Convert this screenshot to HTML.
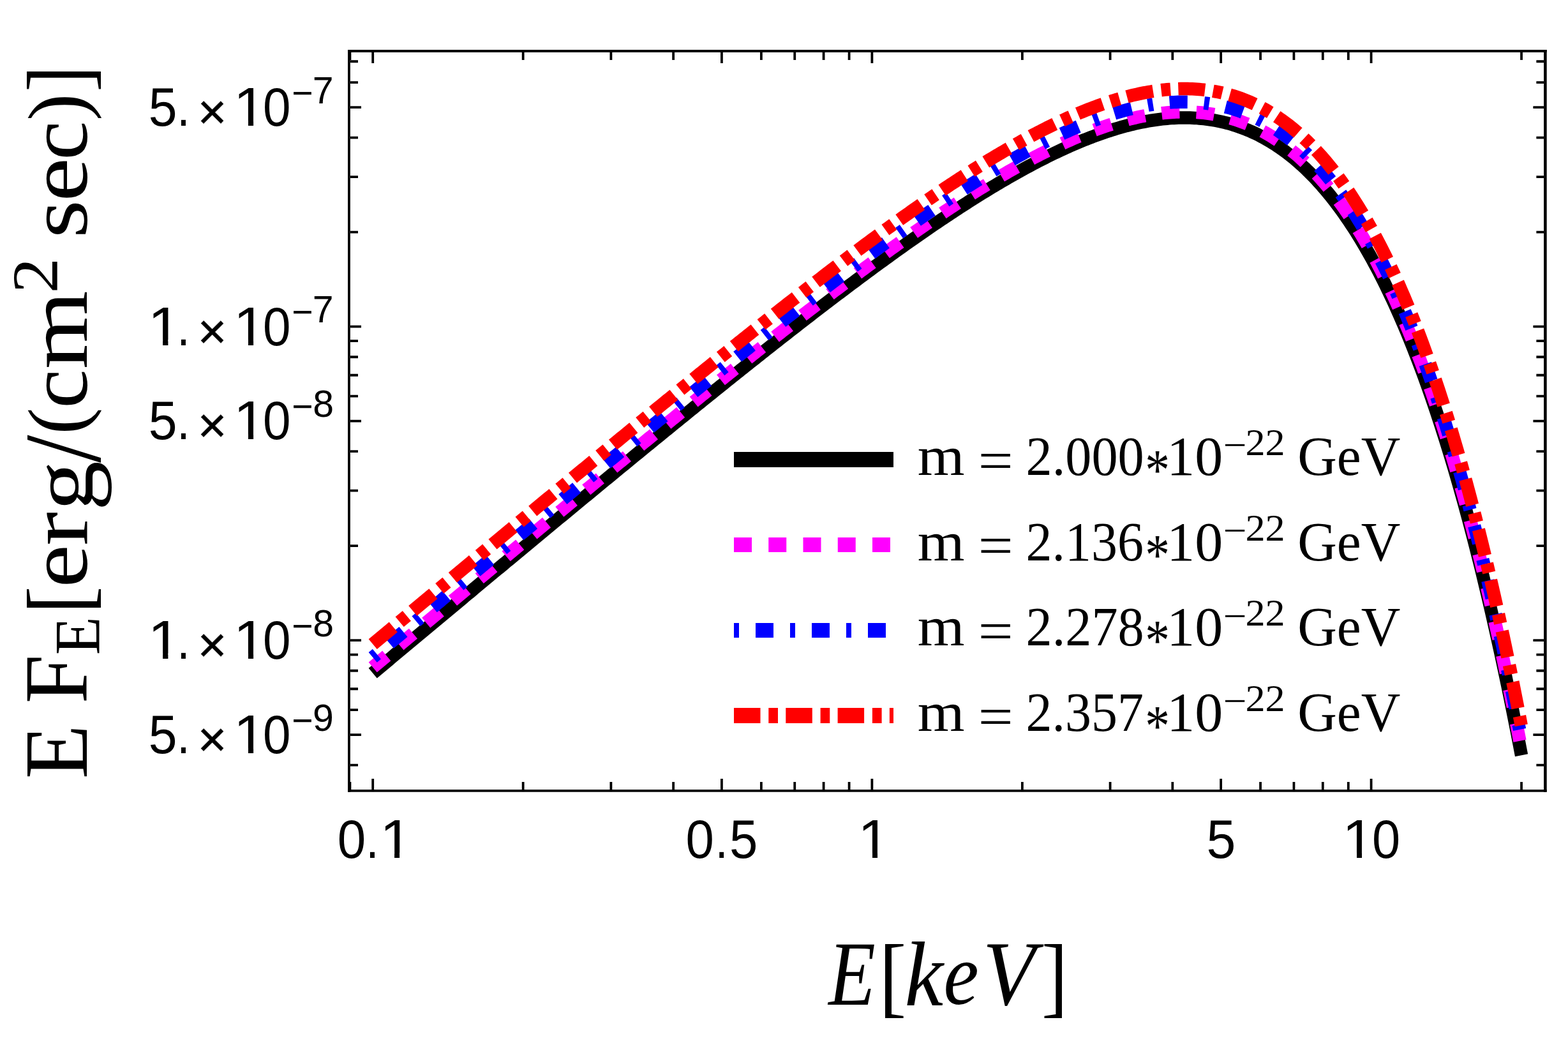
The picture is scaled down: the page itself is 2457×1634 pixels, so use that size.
<!DOCTYPE html><html><head><meta charset="utf-8"><title>E F_E spectrum</title><style>html,body{margin:0;padding:0;background:#fff;overflow:hidden}svg{display:block}text{font-kerning:none}</style></head><body>
<svg width="2457" height="1634" viewBox="0 0 2457 1634">
<rect width="2457" height="1634" fill="#fff"/>
<defs><clipPath id="pc"><rect x="549" y="82" width="1870.5" height="1155"/></clipPath></defs>
<g fill="none" stroke-linejoin="round" stroke-linecap="butt" clip-path="url(#pc)">
<path d="M584.20,1054.59 L587.81,1051.58 L591.41,1048.57 L595.02,1045.55 L598.63,1042.54 L602.23,1039.53 L605.84,1036.52 L609.45,1033.51 L613.06,1030.50 L616.66,1027.48 L620.27,1024.47 L623.88,1021.46 L627.48,1018.45 L631.09,1015.44 L634.70,1012.43 L638.30,1009.42 L641.91,1006.41 L645.52,1003.40 L649.13,1000.39 L652.73,997.38 L656.34,994.38 L659.95,991.37 L663.55,988.36 L667.16,985.35 L670.77,982.34 L674.37,979.33 L677.98,976.33 L681.59,973.32 L685.19,970.31 L688.80,967.31 L692.41,964.30 L696.02,961.29 L699.62,958.29 L703.23,955.28 L706.84,952.28 L710.44,949.27 L714.05,946.27 L717.66,943.26 L721.26,940.26 L724.87,937.26 L728.48,934.25 L732.08,931.25 L735.69,928.25 L739.30,925.25 L742.91,922.24 L746.51,919.24 L750.12,916.24 L753.73,913.24 L757.33,910.24 L760.94,907.24 L764.55,904.24 L768.15,901.24 L771.76,898.24 L775.37,895.24 L778.98,892.24 L782.58,889.25 L786.19,886.25 L789.80,883.25 L793.40,880.25 L797.01,877.26 L800.62,874.26 L804.22,871.27 L807.83,868.27 L811.44,865.28 L815.04,862.28 L818.65,859.29 L822.26,856.30 L825.87,853.31 L829.47,850.31 L833.08,847.32 L836.69,844.33 L840.29,841.34 L843.90,838.35 L847.51,835.36 L851.11,832.37 L854.72,829.39 L858.33,826.40 L861.93,823.41 L865.54,820.43 L869.15,817.44 L872.76,814.46 L876.36,811.47 L879.97,808.49 L883.58,805.51 L887.18,802.52 L890.79,799.54 L894.40,796.56 L898.00,793.58 L901.61,790.60 L905.22,787.62 L908.83,784.64 L912.43,781.67 L916.04,778.69 L919.65,775.72 L923.25,772.74 L926.86,769.77 L930.47,766.79 L934.07,763.82 L937.68,760.85 L941.29,757.88 L944.89,754.91 L948.50,751.94 L952.11,748.97 L955.72,746.00 L959.32,743.04 L962.93,740.07 L966.54,737.11 L970.14,734.15 L973.75,731.18 L977.36,728.22 L980.96,725.26 L984.57,722.30 L988.18,719.35 L991.78,716.39 L995.39,713.43 L999.00,710.48 L1002.61,707.52 L1006.21,704.57 L1009.82,701.62 L1013.43,698.67 L1017.03,695.72 L1020.64,692.78 L1024.25,689.83 L1027.85,686.88 L1031.46,683.94 L1035.07,681.00 L1038.68,678.06 L1042.28,675.12 L1045.89,672.18 L1049.50,669.24 L1053.10,666.31 L1056.71,663.38 L1060.32,660.44 L1063.92,657.51 L1067.53,654.58 L1071.14,651.66 L1074.74,648.73 L1078.35,645.81 L1081.96,642.88 L1085.57,639.96 L1089.17,637.04 L1092.78,634.13 L1096.39,631.21 L1099.99,628.30 L1103.60,625.38 L1107.21,622.47 L1110.81,619.57 L1114.42,616.66 L1118.03,613.75 L1121.63,610.85 L1125.24,607.95 L1128.85,605.05 L1132.46,602.16 L1136.06,599.26 L1139.67,596.37 L1143.28,593.48 L1146.88,590.59 L1150.49,587.71 L1154.10,584.82 L1157.70,581.94 L1161.31,579.07 L1164.92,576.19 L1168.53,573.32 L1172.13,570.44 L1175.74,567.58 L1179.35,564.71 L1182.95,561.85 L1186.56,558.99 L1190.17,556.13 L1193.77,553.27 L1197.38,550.42 L1200.99,547.57 L1204.59,544.73 L1208.20,541.88 L1211.81,539.04 L1215.42,536.20 L1219.02,533.37 L1222.63,530.54 L1226.24,527.71 L1229.84,524.88 L1233.45,522.06 L1237.06,519.24 L1240.66,516.43 L1244.27,513.62 L1247.88,510.81 L1251.48,508.00 L1255.09,505.20 L1258.70,502.40 L1262.31,499.61 L1265.91,496.82 L1269.52,494.04 L1273.13,491.25 L1276.73,488.47 L1280.34,485.70 L1283.95,482.93 L1287.55,480.16 L1291.16,477.40 L1294.77,474.65 L1298.38,471.89 L1301.98,469.14 L1305.59,466.40 L1309.20,463.66 L1312.80,460.93 L1316.41,458.20 L1320.02,455.47 L1323.62,452.75 L1327.23,450.03 L1330.84,447.32 L1334.44,444.62 L1338.05,441.92 L1341.66,439.22 L1345.27,436.53 L1348.87,433.85 L1352.48,431.17 L1356.09,428.50 L1359.69,425.83 L1363.30,423.17 L1366.91,420.52 L1370.51,417.87 L1374.12,415.22 L1377.73,412.58 L1381.33,409.95 L1384.94,407.33 L1388.55,404.71 L1392.16,402.10 L1395.76,399.49 L1399.37,396.90 L1402.98,394.30 L1406.58,391.72 L1410.19,389.14 L1413.80,386.57 L1417.40,384.01 L1421.01,381.45 L1424.62,378.91 L1428.23,376.37 L1431.83,373.83 L1435.44,371.31 L1439.05,368.79 L1442.65,366.28 L1446.26,363.78 L1449.87,361.29 L1453.47,358.81 L1457.08,356.34 L1460.69,353.87 L1464.29,351.41 L1467.90,348.97 L1471.51,346.53 L1475.12,344.10 L1478.72,341.68 L1482.33,339.27 L1485.94,336.87 L1489.54,334.48 L1493.15,332.10 L1496.76,329.73 L1500.36,327.37 L1503.97,325.02 L1507.58,322.68 L1511.18,320.35 L1514.79,318.04 L1518.40,315.73 L1522.01,313.44 L1525.61,311.16 L1529.22,308.89 L1532.83,306.63 L1536.43,304.38 L1540.04,302.15 L1543.65,299.93 L1547.25,297.72 L1550.86,295.52 L1554.47,293.34 L1558.08,291.17 L1561.68,289.01 L1565.29,286.87 L1568.90,284.74 L1572.50,282.63 L1576.11,280.53 L1579.72,278.44 L1583.32,276.37 L1586.93,274.31 L1590.54,272.27 L1594.14,270.25 L1597.75,268.24 L1601.36,266.24 L1604.97,264.26 L1608.57,262.30 L1612.18,260.36 L1615.79,258.43 L1619.39,256.52 L1623.00,254.62 L1626.61,252.75 L1630.21,250.89 L1633.82,249.05 L1637.43,247.23 L1641.03,245.42 L1644.64,243.64 L1648.25,241.87 L1651.86,240.13 L1655.46,238.40 L1659.07,236.70 L1662.68,235.01 L1666.28,233.35 L1669.89,231.70 L1673.50,230.08 L1677.10,228.48 L1680.71,226.90 L1684.32,225.34 L1687.93,223.81 L1691.53,222.30 L1695.14,220.81 L1698.75,219.35 L1702.35,217.91 L1705.96,216.49 L1709.57,215.10 L1713.17,213.74 L1716.78,212.40 L1720.39,211.08 L1723.99,209.79 L1727.60,208.53 L1731.21,207.29 L1734.82,206.09 L1738.42,204.91 L1742.03,203.76 L1745.64,202.63 L1749.24,201.54 L1752.85,200.47 L1756.46,199.44 L1760.06,198.43 L1763.67,197.46 L1767.28,196.51 L1770.88,195.60 L1774.49,194.72 L1778.10,193.88 L1781.71,193.06 L1785.31,192.28 L1788.92,191.53 L1792.53,190.82 L1796.13,190.14 L1799.74,189.50 L1803.35,188.89 L1806.95,188.32 L1810.56,187.79 L1814.17,187.30 L1817.78,186.84 L1821.38,186.42 L1824.99,186.04 L1828.60,185.70 L1832.20,185.40 L1835.81,185.14 L1839.42,184.92 L1843.02,184.74 L1846.63,184.61 L1850.24,184.52 L1853.84,184.47 L1857.45,184.47 L1861.06,184.51 L1864.67,184.60 L1868.27,184.74 L1871.88,184.92 L1875.49,185.14 L1879.09,185.42 L1882.70,185.75 L1886.31,186.12 L1889.91,186.55 L1893.52,187.02 L1897.13,187.55 L1900.74,188.13 L1904.34,188.77 L1907.95,189.45 L1911.56,190.20 L1915.16,190.99 L1918.77,191.85 L1922.38,192.76 L1925.98,193.72 L1929.59,194.75 L1933.20,195.83 L1936.80,196.98 L1940.41,198.19 L1944.02,199.45 L1947.63,200.78 L1951.23,202.18 L1954.84,203.63 L1958.45,205.16 L1962.05,206.74 L1965.66,208.40 L1969.27,210.12 L1972.87,211.91 L1976.48,213.77 L1980.09,215.71 L1983.69,217.71 L1987.30,219.78 L1990.91,221.93 L1994.52,224.15 L1998.12,226.45 L2001.73,228.82 L2005.34,231.27 L2008.94,233.80 L2012.55,236.41 L2016.16,239.10 L2019.76,241.87 L2023.37,244.72 L2026.98,247.65 L2030.59,250.67 L2034.19,253.78 L2037.80,256.97 L2041.41,260.25 L2045.01,263.61 L2048.62,267.07 L2052.23,270.62 L2055.83,274.26 L2059.44,277.99 L2063.05,281.82 L2066.65,285.75 L2070.26,289.77 L2073.87,293.89 L2077.48,298.11 L2081.08,302.43 L2084.69,306.85 L2088.30,311.37 L2091.90,316.00 L2095.51,320.74 L2099.12,325.58 L2102.72,330.53 L2106.33,335.59 L2109.94,340.76 L2113.54,346.04 L2117.15,351.44 L2120.76,356.95 L2124.37,362.58 L2127.97,368.33 L2131.58,374.19 L2135.19,380.18 L2138.79,386.29 L2142.40,392.52 L2146.01,398.87 L2149.61,405.36 L2153.22,411.97 L2156.83,418.71 L2160.44,425.58 L2164.04,432.59 L2167.65,439.73 L2171.26,447.01 L2174.86,454.42 L2178.47,461.97 L2182.08,469.66 L2185.68,477.50 L2189.29,485.48 L2192.90,493.60 L2196.50,501.87 L2200.11,510.30 L2203.72,518.87 L2207.33,527.59 L2210.93,536.47 L2214.54,545.51 L2218.15,554.70 L2221.75,564.05 L2225.36,573.56 L2228.97,583.24 L2232.57,593.08 L2236.18,603.09 L2239.79,613.27 L2243.39,623.62 L2247.00,634.14 L2250.61,644.84 L2254.22,655.71 L2257.82,666.76 L2261.43,678.00 L2265.04,689.41 L2268.64,701.01 L2272.25,712.80 L2275.86,724.78 L2279.46,736.94 L2283.07,749.31 L2286.68,761.86 L2290.29,774.62 L2293.89,787.57 L2297.50,800.73 L2301.11,814.09 L2304.71,827.65 L2308.32,841.43 L2311.93,855.42 L2315.53,869.62 L2319.14,884.03 L2322.75,898.67 L2326.35,913.52 L2329.96,928.60 L2333.57,943.90 L2337.18,959.44 L2340.78,975.20 L2344.39,991.19 L2348.00,1007.43 L2351.60,1023.89 L2355.21,1040.61 L2358.82,1057.56 L2362.42,1074.76 L2366.03,1092.21 L2369.64,1109.91 L2373.24,1127.87 L2376.85,1146.08 L2380.46,1164.55 L2384.07,1183.29" stroke="#000" stroke-width="20.5"/>
<path d="M584.20,1045.39 L587.81,1042.38 L591.41,1039.37 L595.02,1036.35 L598.63,1033.34 L602.23,1030.33 L605.84,1027.32 L609.45,1024.31 L613.06,1021.30 L616.66,1018.28 L620.27,1015.27 L623.88,1012.26 L627.48,1009.25 L631.09,1006.24 L634.70,1003.23 L638.30,1000.22 L641.91,997.21 L645.52,994.20 L649.13,991.19 L652.73,988.18 L656.34,985.18 L659.95,982.17 L663.55,979.16 L667.16,976.15 L670.77,973.14 L674.37,970.13 L677.98,967.13 L681.59,964.12 L685.19,961.11 L688.80,958.11 L692.41,955.10 L696.02,952.09 L699.62,949.09 L703.23,946.08 L706.84,943.08 L710.44,940.07 L714.05,937.07 L717.66,934.06 L721.26,931.06 L724.87,928.06 L728.48,925.05 L732.08,922.05 L735.69,919.05 L739.30,916.05 L742.91,913.04 L746.51,910.04 L750.12,907.04 L753.73,904.04 L757.33,901.04 L760.94,898.04 L764.55,895.04 L768.15,892.04 L771.76,889.04 L775.37,886.04 L778.98,883.04 L782.58,880.05 L786.19,877.05 L789.80,874.05 L793.40,871.05 L797.01,868.06 L800.62,865.06 L804.22,862.07 L807.83,859.07 L811.44,856.08 L815.04,853.08 L818.65,850.09 L822.26,847.10 L825.87,844.11 L829.47,841.11 L833.08,838.12 L836.69,835.13 L840.29,832.14 L843.90,829.15 L847.51,826.16 L851.11,823.17 L854.72,820.19 L858.33,817.20 L861.93,814.21 L865.54,811.23 L869.15,808.24 L872.76,805.26 L876.36,802.27 L879.97,799.29 L883.58,796.31 L887.18,793.32 L890.79,790.34 L894.40,787.36 L898.00,784.38 L901.61,781.40 L905.22,778.42 L908.83,775.44 L912.43,772.47 L916.04,769.49 L919.65,766.52 L923.25,763.54 L926.86,760.57 L930.47,757.59 L934.07,754.62 L937.68,751.65 L941.29,748.68 L944.89,745.71 L948.50,742.74 L952.11,739.77 L955.72,736.80 L959.32,733.84 L962.93,730.87 L966.54,727.91 L970.14,724.95 L973.75,721.98 L977.36,719.02 L980.96,716.06 L984.57,713.10 L988.18,710.15 L991.78,707.19 L995.39,704.23 L999.00,701.28 L1002.61,698.32 L1006.21,695.37 L1009.82,692.42 L1013.43,689.47 L1017.03,686.52 L1020.64,683.58 L1024.25,680.63 L1027.85,677.68 L1031.46,674.74 L1035.07,671.80 L1038.68,668.86 L1042.28,665.92 L1045.89,662.98 L1049.50,660.04 L1053.10,657.11 L1056.71,654.18 L1060.32,651.24 L1063.92,648.31 L1067.53,645.38 L1071.14,642.46 L1074.74,639.53 L1078.35,636.61 L1081.96,633.68 L1085.57,630.76 L1089.17,627.84 L1092.78,624.93 L1096.39,622.01 L1099.99,619.10 L1103.60,616.18 L1107.21,613.27 L1110.81,610.37 L1114.42,607.46 L1118.03,604.55 L1121.63,601.65 L1125.24,598.75 L1128.85,595.85 L1132.46,592.96 L1136.06,590.06 L1139.67,587.17 L1143.28,584.28 L1146.88,581.39 L1150.49,578.51 L1154.10,575.62 L1157.70,572.74 L1161.31,569.87 L1164.92,566.99 L1168.53,564.12 L1172.13,561.24 L1175.74,558.38 L1179.35,555.51 L1182.95,552.65 L1186.56,549.79 L1190.17,546.93 L1193.77,544.07 L1197.38,541.22 L1200.99,538.37 L1204.59,535.53 L1208.20,532.68 L1211.81,529.84 L1215.42,527.00 L1219.02,524.17 L1222.63,521.34 L1226.24,518.51 L1229.84,515.68 L1233.45,512.86 L1237.06,510.04 L1240.66,507.23 L1244.27,504.42 L1247.88,501.61 L1251.48,498.80 L1255.09,496.00 L1258.70,493.20 L1262.31,490.41 L1265.91,487.62 L1269.52,484.84 L1273.13,482.05 L1276.73,479.27 L1280.34,476.50 L1283.95,473.73 L1287.55,470.96 L1291.16,468.20 L1294.77,465.45 L1298.38,462.69 L1301.98,459.94 L1305.59,457.20 L1309.20,454.46 L1312.80,451.73 L1316.41,449.00 L1320.02,446.27 L1323.62,443.55 L1327.23,440.83 L1330.84,438.12 L1334.44,435.42 L1338.05,432.72 L1341.66,430.02 L1345.27,427.33 L1348.87,424.65 L1352.48,421.97 L1356.09,419.30 L1359.69,416.63 L1363.30,413.97 L1366.91,411.32 L1370.51,408.67 L1374.12,406.02 L1377.73,403.38 L1381.33,400.75 L1384.94,398.13 L1388.55,395.51 L1392.16,392.90 L1395.76,390.29 L1399.37,387.70 L1402.98,385.10 L1406.58,382.52 L1410.19,379.94 L1413.80,377.37 L1417.40,374.81 L1421.01,372.25 L1424.62,369.71 L1428.23,367.17 L1431.83,364.63 L1435.44,362.11 L1439.05,359.59 L1442.65,357.08 L1446.26,354.58 L1449.87,352.09 L1453.47,349.61 L1457.08,347.14 L1460.69,344.67 L1464.29,342.21 L1467.90,339.77 L1471.51,337.33 L1475.12,334.90 L1478.72,332.48 L1482.33,330.07 L1485.94,327.67 L1489.54,325.28 L1493.15,322.90 L1496.76,320.53 L1500.36,318.17 L1503.97,315.82 L1507.58,313.48 L1511.18,311.15 L1514.79,308.84 L1518.40,306.53 L1522.01,304.24 L1525.61,301.96 L1529.22,299.69 L1532.83,297.43 L1536.43,295.18 L1540.04,292.95 L1543.65,290.73 L1547.25,288.52 L1550.86,286.32 L1554.47,284.14 L1558.08,281.97 L1561.68,279.81 L1565.29,277.67 L1568.90,275.54 L1572.50,273.43 L1576.11,271.33 L1579.72,269.24 L1583.32,267.17 L1586.93,265.11 L1590.54,263.07 L1594.14,261.05 L1597.75,259.04 L1601.36,257.04 L1604.97,255.06 L1608.57,253.10 L1612.18,251.16 L1615.79,249.23 L1619.39,247.32 L1623.00,245.42 L1626.61,243.55 L1630.21,241.69 L1633.82,239.85 L1637.43,238.03 L1641.03,236.22 L1644.64,234.44 L1648.25,232.67 L1651.86,230.93 L1655.46,229.20 L1659.07,227.50 L1662.68,225.81 L1666.28,224.15 L1669.89,222.50 L1673.50,220.88 L1677.10,219.28 L1680.71,217.70 L1684.32,216.14 L1687.93,214.61 L1691.53,213.10 L1695.14,211.61 L1698.75,210.15 L1702.35,208.71 L1705.96,207.29 L1709.57,205.90 L1713.17,204.54 L1716.78,203.20 L1720.39,201.88 L1723.99,200.59 L1727.60,199.33 L1731.21,198.09 L1734.82,196.89 L1738.42,195.71 L1742.03,194.56 L1745.64,193.43 L1749.24,192.34 L1752.85,191.27 L1756.46,190.24 L1760.06,189.23 L1763.67,188.26 L1767.28,187.31 L1770.88,186.40 L1774.49,185.52 L1778.10,184.68 L1781.71,183.86 L1785.31,183.08 L1788.92,182.33 L1792.53,181.62 L1796.13,180.94 L1799.74,180.30 L1803.35,179.69 L1806.95,179.12 L1810.56,178.59 L1814.17,178.10 L1817.78,177.64 L1821.38,177.22 L1824.99,176.84 L1828.60,176.50 L1832.20,176.20 L1835.81,175.94 L1839.42,175.72 L1843.02,175.54 L1846.63,175.41 L1850.24,175.32 L1853.84,175.27 L1857.45,175.27 L1861.06,175.31 L1864.67,175.40 L1868.27,175.54 L1871.88,175.72 L1875.49,175.94 L1879.09,176.22 L1882.70,176.55 L1886.31,176.92 L1889.91,177.35 L1893.52,177.82 L1897.13,178.35 L1900.74,178.93 L1904.34,179.57 L1907.95,180.25 L1911.56,181.00 L1915.16,181.79 L1918.77,182.65 L1922.38,183.56 L1925.98,184.52 L1929.59,185.55 L1933.20,186.63 L1936.80,187.78 L1940.41,188.99 L1944.02,190.25 L1947.63,191.58 L1951.23,192.98 L1954.84,194.43 L1958.45,195.96 L1962.05,197.54 L1965.66,199.20 L1969.27,200.92 L1972.87,202.71 L1976.48,204.57 L1980.09,206.51 L1983.69,208.51 L1987.30,210.58 L1990.91,212.73 L1994.52,214.95 L1998.12,217.25 L2001.73,219.62 L2005.34,222.07 L2008.94,224.60 L2012.55,227.21 L2016.16,229.90 L2019.76,232.67 L2023.37,235.52 L2026.98,238.45 L2030.59,241.47 L2034.19,244.58 L2037.80,247.77 L2041.41,251.05 L2045.01,254.41 L2048.62,257.87 L2052.23,261.42 L2055.83,265.06 L2059.44,268.79 L2063.05,272.62 L2066.65,276.55 L2070.26,280.57 L2073.87,284.69 L2077.48,288.91 L2081.08,293.23 L2084.69,297.65 L2088.30,302.17 L2091.90,306.80 L2095.51,311.54 L2099.12,316.38 L2102.72,321.33 L2106.33,326.39 L2109.94,331.56 L2113.54,336.84 L2117.15,342.24 L2120.76,347.75 L2124.37,353.38 L2127.97,359.13 L2131.58,364.99 L2135.19,370.98 L2138.79,377.09 L2142.40,383.32 L2146.01,389.67 L2149.61,396.16 L2153.22,402.77 L2156.83,409.51 L2160.44,416.38 L2164.04,423.39 L2167.65,430.53 L2171.26,437.81 L2174.86,445.22 L2178.47,452.77 L2182.08,460.46 L2185.68,468.30 L2189.29,476.28 L2192.90,484.40 L2196.50,492.67 L2200.11,501.10 L2203.72,509.67 L2207.33,518.39 L2210.93,527.27 L2214.54,536.31 L2218.15,545.50 L2221.75,554.85 L2225.36,564.36 L2228.97,574.04 L2232.57,583.88 L2236.18,593.89 L2239.79,604.07 L2243.39,614.42 L2247.00,624.94 L2250.61,635.64 L2254.22,646.51 L2257.82,657.56 L2261.43,668.80 L2265.04,680.21 L2268.64,691.81 L2272.25,703.60 L2275.86,715.58 L2279.46,727.74 L2283.07,740.11 L2286.68,752.66 L2290.29,765.42 L2293.89,778.37 L2297.50,791.53 L2301.11,804.89 L2304.71,818.45 L2308.32,832.23 L2311.93,846.22 L2315.53,860.42 L2319.14,874.83 L2322.75,889.47 L2326.35,904.32 L2329.96,919.40 L2333.57,934.70 L2337.18,950.24 L2340.78,966.00 L2344.39,981.99 L2348.00,998.23 L2351.60,1014.69 L2355.21,1031.41 L2358.82,1048.36 L2362.42,1065.56 L2366.03,1083.01 L2369.64,1100.71 L2373.24,1118.67 L2376.85,1136.88 L2380.46,1155.35 L2384.07,1174.09" stroke="#f0f" stroke-width="20.5" stroke-dasharray="28.070 26.316"/>
<path d="M584.20,1029.79 L587.81,1026.78 L591.41,1023.77 L595.02,1020.75 L598.63,1017.74 L602.23,1014.73 L605.84,1011.72 L609.45,1008.71 L613.06,1005.70 L616.66,1002.68 L620.27,999.67 L623.88,996.66 L627.48,993.65 L631.09,990.64 L634.70,987.63 L638.30,984.62 L641.91,981.61 L645.52,978.60 L649.13,975.59 L652.73,972.58 L656.34,969.58 L659.95,966.57 L663.55,963.56 L667.16,960.55 L670.77,957.54 L674.37,954.53 L677.98,951.53 L681.59,948.52 L685.19,945.51 L688.80,942.51 L692.41,939.50 L696.02,936.49 L699.62,933.49 L703.23,930.48 L706.84,927.48 L710.44,924.47 L714.05,921.47 L717.66,918.46 L721.26,915.46 L724.87,912.46 L728.48,909.45 L732.08,906.45 L735.69,903.45 L739.30,900.45 L742.91,897.44 L746.51,894.44 L750.12,891.44 L753.73,888.44 L757.33,885.44 L760.94,882.44 L764.55,879.44 L768.15,876.44 L771.76,873.44 L775.37,870.44 L778.98,867.44 L782.58,864.45 L786.19,861.45 L789.80,858.45 L793.40,855.45 L797.01,852.46 L800.62,849.46 L804.22,846.47 L807.83,843.47 L811.44,840.48 L815.04,837.48 L818.65,834.49 L822.26,831.50 L825.87,828.51 L829.47,825.51 L833.08,822.52 L836.69,819.53 L840.29,816.54 L843.90,813.55 L847.51,810.56 L851.11,807.57 L854.72,804.59 L858.33,801.60 L861.93,798.61 L865.54,795.63 L869.15,792.64 L872.76,789.66 L876.36,786.67 L879.97,783.69 L883.58,780.71 L887.18,777.72 L890.79,774.74 L894.40,771.76 L898.00,768.78 L901.61,765.80 L905.22,762.82 L908.83,759.84 L912.43,756.87 L916.04,753.89 L919.65,750.92 L923.25,747.94 L926.86,744.97 L930.47,741.99 L934.07,739.02 L937.68,736.05 L941.29,733.08 L944.89,730.11 L948.50,727.14 L952.11,724.17 L955.72,721.20 L959.32,718.24 L962.93,715.27 L966.54,712.31 L970.14,709.35 L973.75,706.38 L977.36,703.42 L980.96,700.46 L984.57,697.50 L988.18,694.55 L991.78,691.59 L995.39,688.63 L999.00,685.68 L1002.61,682.72 L1006.21,679.77 L1009.82,676.82 L1013.43,673.87 L1017.03,670.92 L1020.64,667.98 L1024.25,665.03 L1027.85,662.08 L1031.46,659.14 L1035.07,656.20 L1038.68,653.26 L1042.28,650.32 L1045.89,647.38 L1049.50,644.44 L1053.10,641.51 L1056.71,638.58 L1060.32,635.64 L1063.92,632.71 L1067.53,629.78 L1071.14,626.86 L1074.74,623.93 L1078.35,621.01 L1081.96,618.08 L1085.57,615.16 L1089.17,612.24 L1092.78,609.33 L1096.39,606.41 L1099.99,603.50 L1103.60,600.58 L1107.21,597.67 L1110.81,594.77 L1114.42,591.86 L1118.03,588.95 L1121.63,586.05 L1125.24,583.15 L1128.85,580.25 L1132.46,577.36 L1136.06,574.46 L1139.67,571.57 L1143.28,568.68 L1146.88,565.79 L1150.49,562.91 L1154.10,560.02 L1157.70,557.14 L1161.31,554.27 L1164.92,551.39 L1168.53,548.52 L1172.13,545.64 L1175.74,542.78 L1179.35,539.91 L1182.95,537.05 L1186.56,534.19 L1190.17,531.33 L1193.77,528.47 L1197.38,525.62 L1200.99,522.77 L1204.59,519.93 L1208.20,517.08 L1211.81,514.24 L1215.42,511.40 L1219.02,508.57 L1222.63,505.74 L1226.24,502.91 L1229.84,500.08 L1233.45,497.26 L1237.06,494.44 L1240.66,491.63 L1244.27,488.82 L1247.88,486.01 L1251.48,483.20 L1255.09,480.40 L1258.70,477.60 L1262.31,474.81 L1265.91,472.02 L1269.52,469.24 L1273.13,466.45 L1276.73,463.67 L1280.34,460.90 L1283.95,458.13 L1287.55,455.36 L1291.16,452.60 L1294.77,449.85 L1298.38,447.09 L1301.98,444.34 L1305.59,441.60 L1309.20,438.86 L1312.80,436.13 L1316.41,433.40 L1320.02,430.67 L1323.62,427.95 L1327.23,425.23 L1330.84,422.52 L1334.44,419.82 L1338.05,417.12 L1341.66,414.42 L1345.27,411.73 L1348.87,409.05 L1352.48,406.37 L1356.09,403.70 L1359.69,401.03 L1363.30,398.37 L1366.91,395.72 L1370.51,393.07 L1374.12,390.42 L1377.73,387.78 L1381.33,385.15 L1384.94,382.53 L1388.55,379.91 L1392.16,377.30 L1395.76,374.69 L1399.37,372.10 L1402.98,369.50 L1406.58,366.92 L1410.19,364.34 L1413.80,361.77 L1417.40,359.21 L1421.01,356.65 L1424.62,354.11 L1428.23,351.57 L1431.83,349.03 L1435.44,346.51 L1439.05,343.99 L1442.65,341.48 L1446.26,338.98 L1449.87,336.49 L1453.47,334.01 L1457.08,331.54 L1460.69,329.07 L1464.29,326.61 L1467.90,324.17 L1471.51,321.73 L1475.12,319.30 L1478.72,316.88 L1482.33,314.47 L1485.94,312.07 L1489.54,309.68 L1493.15,307.30 L1496.76,304.93 L1500.36,302.57 L1503.97,300.22 L1507.58,297.88 L1511.18,295.55 L1514.79,293.24 L1518.40,290.93 L1522.01,288.64 L1525.61,286.36 L1529.22,284.09 L1532.83,281.83 L1536.43,279.58 L1540.04,277.35 L1543.65,275.13 L1547.25,272.92 L1550.86,270.72 L1554.47,268.54 L1558.08,266.37 L1561.68,264.21 L1565.29,262.07 L1568.90,259.94 L1572.50,257.83 L1576.11,255.73 L1579.72,253.64 L1583.32,251.57 L1586.93,249.51 L1590.54,247.47 L1594.14,245.45 L1597.75,243.44 L1601.36,241.44 L1604.97,239.46 L1608.57,237.50 L1612.18,235.56 L1615.79,233.63 L1619.39,231.72 L1623.00,229.82 L1626.61,227.95 L1630.21,226.09 L1633.82,224.25 L1637.43,222.43 L1641.03,220.62 L1644.64,218.84 L1648.25,217.07 L1651.86,215.33 L1655.46,213.60 L1659.07,211.90 L1662.68,210.21 L1666.28,208.55 L1669.89,206.90 L1673.50,205.28 L1677.10,203.68 L1680.71,202.10 L1684.32,200.54 L1687.93,199.01 L1691.53,197.50 L1695.14,196.01 L1698.75,194.55 L1702.35,193.11 L1705.96,191.69 L1709.57,190.30 L1713.17,188.94 L1716.78,187.60 L1720.39,186.28 L1723.99,184.99 L1727.60,183.73 L1731.21,182.49 L1734.82,181.29 L1738.42,180.11 L1742.03,178.96 L1745.64,177.83 L1749.24,176.74 L1752.85,175.67 L1756.46,174.64 L1760.06,173.63 L1763.67,172.66 L1767.28,171.71 L1770.88,170.80 L1774.49,169.92 L1778.10,169.08 L1781.71,168.26 L1785.31,167.48 L1788.92,166.73 L1792.53,166.02 L1796.13,165.34 L1799.74,164.70 L1803.35,164.09 L1806.95,163.52 L1810.56,162.99 L1814.17,162.50 L1817.78,162.04 L1821.38,161.62 L1824.99,161.24 L1828.60,160.90 L1832.20,160.60 L1835.81,160.34 L1839.42,160.12 L1843.02,159.94 L1846.63,159.81 L1850.24,159.72 L1853.84,159.67 L1857.45,159.67 L1861.06,159.71 L1864.67,159.80 L1868.27,159.94 L1871.88,160.12 L1875.49,160.34 L1879.09,160.62 L1882.70,160.95 L1886.31,161.32 L1889.91,161.75 L1893.52,162.22 L1897.13,162.75 L1900.74,163.33 L1904.34,163.97 L1907.95,164.65 L1911.56,165.40 L1915.16,166.19 L1918.77,167.05 L1922.38,167.96 L1925.98,168.92 L1929.59,169.95 L1933.20,171.03 L1936.80,172.18 L1940.41,173.39 L1944.02,174.65 L1947.63,175.98 L1951.23,177.38 L1954.84,178.83 L1958.45,180.36 L1962.05,181.94 L1965.66,183.60 L1969.27,185.32 L1972.87,187.11 L1976.48,188.97 L1980.09,190.91 L1983.69,192.91 L1987.30,194.98 L1990.91,197.13 L1994.52,199.35 L1998.12,201.65 L2001.73,204.02 L2005.34,206.47 L2008.94,209.00 L2012.55,211.61 L2016.16,214.30 L2019.76,217.07 L2023.37,219.92 L2026.98,222.85 L2030.59,225.87 L2034.19,228.98 L2037.80,232.17 L2041.41,235.45 L2045.01,238.81 L2048.62,242.27 L2052.23,245.82 L2055.83,249.46 L2059.44,253.19 L2063.05,257.02 L2066.65,260.95 L2070.26,264.97 L2073.87,269.09 L2077.48,273.31 L2081.08,277.63 L2084.69,282.05 L2088.30,286.57 L2091.90,291.20 L2095.51,295.94 L2099.12,300.78 L2102.72,305.73 L2106.33,310.79 L2109.94,315.96 L2113.54,321.24 L2117.15,326.64 L2120.76,332.15 L2124.37,337.78 L2127.97,343.53 L2131.58,349.39 L2135.19,355.38 L2138.79,361.49 L2142.40,367.72 L2146.01,374.07 L2149.61,380.56 L2153.22,387.17 L2156.83,393.91 L2160.44,400.78 L2164.04,407.79 L2167.65,414.93 L2171.26,422.21 L2174.86,429.62 L2178.47,437.17 L2182.08,444.86 L2185.68,452.70 L2189.29,460.68 L2192.90,468.80 L2196.50,477.07 L2200.11,485.50 L2203.72,494.07 L2207.33,502.79 L2210.93,511.67 L2214.54,520.71 L2218.15,529.90 L2221.75,539.25 L2225.36,548.76 L2228.97,558.44 L2232.57,568.28 L2236.18,578.29 L2239.79,588.47 L2243.39,598.82 L2247.00,609.34 L2250.61,620.04 L2254.22,630.91 L2257.82,641.96 L2261.43,653.20 L2265.04,664.61 L2268.64,676.21 L2272.25,688.00 L2275.86,699.98 L2279.46,712.14 L2283.07,724.51 L2286.68,737.06 L2290.29,749.82 L2293.89,762.77 L2297.50,775.93 L2301.11,789.29 L2304.71,802.85 L2308.32,816.63 L2311.93,830.62 L2315.53,844.82 L2319.14,859.23 L2322.75,873.87 L2326.35,888.72 L2329.96,903.80 L2333.57,919.10 L2337.18,934.64 L2340.78,950.40 L2344.39,966.39 L2348.00,982.63 L2351.60,999.09 L2355.21,1015.81 L2358.82,1032.76 L2362.42,1049.96 L2366.03,1067.41 L2369.64,1085.11 L2373.24,1103.07 L2376.85,1121.28 L2380.46,1139.75 L2384.07,1158.49" stroke="#00f" stroke-width="20.5" stroke-dasharray="8.027 26.088 28.095 26.088"/>
<path d="M584.20,1009.19 L587.81,1006.18 L591.41,1003.17 L595.02,1000.15 L598.63,997.14 L602.23,994.13 L605.84,991.12 L609.45,988.11 L613.06,985.10 L616.66,982.08 L620.27,979.07 L623.88,976.06 L627.48,973.05 L631.09,970.04 L634.70,967.03 L638.30,964.02 L641.91,961.01 L645.52,958.00 L649.13,954.99 L652.73,951.98 L656.34,948.98 L659.95,945.97 L663.55,942.96 L667.16,939.95 L670.77,936.94 L674.37,933.93 L677.98,930.93 L681.59,927.92 L685.19,924.91 L688.80,921.91 L692.41,918.90 L696.02,915.89 L699.62,912.89 L703.23,909.88 L706.84,906.88 L710.44,903.87 L714.05,900.87 L717.66,897.86 L721.26,894.86 L724.87,891.86 L728.48,888.85 L732.08,885.85 L735.69,882.85 L739.30,879.85 L742.91,876.84 L746.51,873.84 L750.12,870.84 L753.73,867.84 L757.33,864.84 L760.94,861.84 L764.55,858.84 L768.15,855.84 L771.76,852.84 L775.37,849.84 L778.98,846.84 L782.58,843.85 L786.19,840.85 L789.80,837.85 L793.40,834.85 L797.01,831.86 L800.62,828.86 L804.22,825.87 L807.83,822.87 L811.44,819.88 L815.04,816.88 L818.65,813.89 L822.26,810.90 L825.87,807.91 L829.47,804.91 L833.08,801.92 L836.69,798.93 L840.29,795.94 L843.90,792.95 L847.51,789.96 L851.11,786.97 L854.72,783.99 L858.33,781.00 L861.93,778.01 L865.54,775.03 L869.15,772.04 L872.76,769.06 L876.36,766.07 L879.97,763.09 L883.58,760.11 L887.18,757.12 L890.79,754.14 L894.40,751.16 L898.00,748.18 L901.61,745.20 L905.22,742.22 L908.83,739.24 L912.43,736.27 L916.04,733.29 L919.65,730.32 L923.25,727.34 L926.86,724.37 L930.47,721.39 L934.07,718.42 L937.68,715.45 L941.29,712.48 L944.89,709.51 L948.50,706.54 L952.11,703.57 L955.72,700.60 L959.32,697.64 L962.93,694.67 L966.54,691.71 L970.14,688.75 L973.75,685.78 L977.36,682.82 L980.96,679.86 L984.57,676.90 L988.18,673.95 L991.78,670.99 L995.39,668.03 L999.00,665.08 L1002.61,662.12 L1006.21,659.17 L1009.82,656.22 L1013.43,653.27 L1017.03,650.32 L1020.64,647.38 L1024.25,644.43 L1027.85,641.48 L1031.46,638.54 L1035.07,635.60 L1038.68,632.66 L1042.28,629.72 L1045.89,626.78 L1049.50,623.84 L1053.10,620.91 L1056.71,617.98 L1060.32,615.04 L1063.92,612.11 L1067.53,609.18 L1071.14,606.26 L1074.74,603.33 L1078.35,600.41 L1081.96,597.48 L1085.57,594.56 L1089.17,591.64 L1092.78,588.73 L1096.39,585.81 L1099.99,582.90 L1103.60,579.98 L1107.21,577.07 L1110.81,574.17 L1114.42,571.26 L1118.03,568.35 L1121.63,565.45 L1125.24,562.55 L1128.85,559.65 L1132.46,556.76 L1136.06,553.86 L1139.67,550.97 L1143.28,548.08 L1146.88,545.19 L1150.49,542.31 L1154.10,539.42 L1157.70,536.54 L1161.31,533.67 L1164.92,530.79 L1168.53,527.92 L1172.13,525.04 L1175.74,522.18 L1179.35,519.31 L1182.95,516.45 L1186.56,513.59 L1190.17,510.73 L1193.77,507.87 L1197.38,505.02 L1200.99,502.17 L1204.59,499.33 L1208.20,496.48 L1211.81,493.64 L1215.42,490.80 L1219.02,487.97 L1222.63,485.14 L1226.24,482.31 L1229.84,479.48 L1233.45,476.66 L1237.06,473.84 L1240.66,471.03 L1244.27,468.22 L1247.88,465.41 L1251.48,462.60 L1255.09,459.80 L1258.70,457.00 L1262.31,454.21 L1265.91,451.42 L1269.52,448.64 L1273.13,445.85 L1276.73,443.07 L1280.34,440.30 L1283.95,437.53 L1287.55,434.76 L1291.16,432.00 L1294.77,429.25 L1298.38,426.49 L1301.98,423.74 L1305.59,421.00 L1309.20,418.26 L1312.80,415.53 L1316.41,412.80 L1320.02,410.07 L1323.62,407.35 L1327.23,404.63 L1330.84,401.92 L1334.44,399.22 L1338.05,396.52 L1341.66,393.82 L1345.27,391.13 L1348.87,388.45 L1352.48,385.77 L1356.09,383.10 L1359.69,380.43 L1363.30,377.77 L1366.91,375.12 L1370.51,372.47 L1374.12,369.82 L1377.73,367.18 L1381.33,364.55 L1384.94,361.93 L1388.55,359.31 L1392.16,356.70 L1395.76,354.09 L1399.37,351.50 L1402.98,348.90 L1406.58,346.32 L1410.19,343.74 L1413.80,341.17 L1417.40,338.61 L1421.01,336.05 L1424.62,333.51 L1428.23,330.97 L1431.83,328.43 L1435.44,325.91 L1439.05,323.39 L1442.65,320.88 L1446.26,318.38 L1449.87,315.89 L1453.47,313.41 L1457.08,310.94 L1460.69,308.47 L1464.29,306.01 L1467.90,303.57 L1471.51,301.13 L1475.12,298.70 L1478.72,296.28 L1482.33,293.87 L1485.94,291.47 L1489.54,289.08 L1493.15,286.70 L1496.76,284.33 L1500.36,281.97 L1503.97,279.62 L1507.58,277.28 L1511.18,274.95 L1514.79,272.64 L1518.40,270.33 L1522.01,268.04 L1525.61,265.76 L1529.22,263.49 L1532.83,261.23 L1536.43,258.98 L1540.04,256.75 L1543.65,254.53 L1547.25,252.32 L1550.86,250.12 L1554.47,247.94 L1558.08,245.77 L1561.68,243.61 L1565.29,241.47 L1568.90,239.34 L1572.50,237.23 L1576.11,235.13 L1579.72,233.04 L1583.32,230.97 L1586.93,228.91 L1590.54,226.87 L1594.14,224.85 L1597.75,222.84 L1601.36,220.84 L1604.97,218.86 L1608.57,216.90 L1612.18,214.96 L1615.79,213.03 L1619.39,211.12 L1623.00,209.22 L1626.61,207.35 L1630.21,205.49 L1633.82,203.65 L1637.43,201.83 L1641.03,200.02 L1644.64,198.24 L1648.25,196.47 L1651.86,194.73 L1655.46,193.00 L1659.07,191.30 L1662.68,189.61 L1666.28,187.95 L1669.89,186.30 L1673.50,184.68 L1677.10,183.08 L1680.71,181.50 L1684.32,179.94 L1687.93,178.41 L1691.53,176.90 L1695.14,175.41 L1698.75,173.95 L1702.35,172.51 L1705.96,171.09 L1709.57,169.70 L1713.17,168.34 L1716.78,167.00 L1720.39,165.68 L1723.99,164.39 L1727.60,163.13 L1731.21,161.89 L1734.82,160.69 L1738.42,159.51 L1742.03,158.36 L1745.64,157.23 L1749.24,156.14 L1752.85,155.07 L1756.46,154.04 L1760.06,153.03 L1763.67,152.06 L1767.28,151.11 L1770.88,150.20 L1774.49,149.32 L1778.10,148.48 L1781.71,147.66 L1785.31,146.88 L1788.92,146.13 L1792.53,145.42 L1796.13,144.74 L1799.74,144.10 L1803.35,143.49 L1806.95,142.92 L1810.56,142.39 L1814.17,141.90 L1817.78,141.44 L1821.38,141.02 L1824.99,140.64 L1828.60,140.30 L1832.20,140.00 L1835.81,139.74 L1839.42,139.52 L1843.02,139.34 L1846.63,139.21 L1850.24,139.12 L1853.84,139.07 L1857.45,139.07 L1861.06,139.11 L1864.67,139.20 L1868.27,139.34 L1871.88,139.52 L1875.49,139.74 L1879.09,140.02 L1882.70,140.35 L1886.31,140.72 L1889.91,141.15 L1893.52,141.62 L1897.13,142.15 L1900.74,142.73 L1904.34,143.37 L1907.95,144.05 L1911.56,144.80 L1915.16,145.59 L1918.77,146.45 L1922.38,147.36 L1925.98,148.32 L1929.59,149.35 L1933.20,150.43 L1936.80,151.58 L1940.41,152.79 L1944.02,154.05 L1947.63,155.38 L1951.23,156.78 L1954.84,158.23 L1958.45,159.76 L1962.05,161.34 L1965.66,163.00 L1969.27,164.72 L1972.87,166.51 L1976.48,168.37 L1980.09,170.31 L1983.69,172.31 L1987.30,174.38 L1990.91,176.53 L1994.52,178.75 L1998.12,181.05 L2001.73,183.42 L2005.34,185.87 L2008.94,188.40 L2012.55,191.01 L2016.16,193.70 L2019.76,196.47 L2023.37,199.32 L2026.98,202.25 L2030.59,205.27 L2034.19,208.38 L2037.80,211.57 L2041.41,214.85 L2045.01,218.21 L2048.62,221.67 L2052.23,225.22 L2055.83,228.86 L2059.44,232.59 L2063.05,236.42 L2066.65,240.35 L2070.26,244.37 L2073.87,248.49 L2077.48,252.71 L2081.08,257.03 L2084.69,261.45 L2088.30,265.97 L2091.90,270.60 L2095.51,275.34 L2099.12,280.18 L2102.72,285.13 L2106.33,290.19 L2109.94,295.36 L2113.54,300.64 L2117.15,306.04 L2120.76,311.55 L2124.37,317.18 L2127.97,322.93 L2131.58,328.79 L2135.19,334.78 L2138.79,340.89 L2142.40,347.12 L2146.01,353.47 L2149.61,359.96 L2153.22,366.57 L2156.83,373.31 L2160.44,380.18 L2164.04,387.19 L2167.65,394.33 L2171.26,401.61 L2174.86,409.02 L2178.47,416.57 L2182.08,424.26 L2185.68,432.10 L2189.29,440.08 L2192.90,448.20 L2196.50,456.47 L2200.11,464.90 L2203.72,473.47 L2207.33,482.19 L2210.93,491.07 L2214.54,500.11 L2218.15,509.30 L2221.75,518.65 L2225.36,528.16 L2228.97,537.84 L2232.57,547.68 L2236.18,557.69 L2239.79,567.87 L2243.39,578.22 L2247.00,588.74 L2250.61,599.44 L2254.22,610.31 L2257.82,621.36 L2261.43,632.60 L2265.04,644.01 L2268.64,655.61 L2272.25,667.40 L2275.86,679.38 L2279.46,691.54 L2283.07,703.91 L2286.68,716.46 L2290.29,729.22 L2293.89,742.17 L2297.50,755.33 L2301.11,768.69 L2304.71,782.25 L2308.32,796.03 L2311.93,810.02 L2315.53,824.22 L2319.14,838.63 L2322.75,853.27 L2326.35,868.12 L2329.96,883.20 L2333.57,898.50 L2337.18,914.04 L2340.78,929.80 L2344.39,945.79 L2348.00,962.03 L2351.60,978.49 L2355.21,995.21 L2358.82,1012.16 L2362.42,1029.36 L2366.03,1046.81 L2369.64,1064.51 L2373.24,1082.47 L2376.85,1100.68 L2380.46,1119.15 L2384.07,1137.89" stroke="#f00" stroke-width="20.5" stroke-dasharray="41.813 12.835 14.639 12.233"/>
</g>
<path d="M584.20 1237.00V1220.00M584.20 82.00V99.00M1130.93 1237.00V1220.00M1130.93 82.00V99.00M1366.40 1237.00V1220.00M1366.40 82.00V99.00M1913.13 1237.00V1220.00M1913.13 82.00V99.00M2148.60 1237.00V1220.00M2148.60 82.00V99.00M548.41 1237.00V1225.00M548.41 82.00V94.00M819.67 1237.00V1225.00M819.67 82.00V94.00M957.40 1237.00V1225.00M957.40 82.00V94.00M1055.13 1237.00V1225.00M1055.13 82.00V94.00M1192.87 1237.00V1225.00M1192.87 82.00V94.00M1245.24 1237.00V1225.00M1245.24 82.00V94.00M1290.60 1237.00V1225.00M1290.60 82.00V94.00M1330.61 1237.00V1225.00M1330.61 82.00V94.00M1601.87 1237.00V1225.00M1601.87 82.00V94.00M1739.60 1237.00V1225.00M1739.60 82.00V94.00M1837.33 1237.00V1225.00M1837.33 82.00V94.00M1975.07 1237.00V1225.00M1975.07 82.00V94.00M2027.44 1237.00V1225.00M2027.44 82.00V94.00M2072.80 1237.00V1225.00M2072.80 82.00V94.00M2112.81 1237.00V1225.00M2112.81 82.00V94.00M2384.07 1237.00V1225.00M2384.07 82.00V94.00M549.00 168.06H566.00M2419.40 168.06H2402.40M549.00 511.60H566.00M2419.40 511.60H2402.40M549.00 659.56H566.00M2419.40 659.56H2402.40M549.00 1003.10H566.00M2419.40 1003.10H2402.40M549.00 1151.06H566.00M2419.40 1151.06H2402.40M549.00 1198.69H561.00M2419.40 1198.69H2407.40M549.00 1112.14H561.00M2419.40 1112.14H2407.40M549.00 1079.23H561.00M2419.40 1079.23H2407.40M549.00 1050.73H561.00M2419.40 1050.73H2407.40M549.00 1025.59H561.00M2419.40 1025.59H2407.40M549.00 855.14H561.00M2419.40 855.14H2407.40M549.00 768.59H561.00M2419.40 768.59H2407.40M549.00 707.19H561.00M2419.40 707.19H2407.40M549.00 620.64H561.00M2419.40 620.64H2407.40M549.00 587.73H561.00M2419.40 587.73H2407.40M549.00 559.23H561.00M2419.40 559.23H2407.40M549.00 534.09H561.00M2419.40 534.09H2407.40M549.00 363.64H561.00M2419.40 363.64H2407.40M549.00 277.09H561.00M2419.40 277.09H2407.40M549.00 215.69H561.00M2419.40 215.69H2407.40M549.00 129.14H561.00M2419.40 129.14H2407.40M549.00 96.23H561.00M2419.40 96.23H2407.40" stroke="#000" stroke-width="3.8" fill="none"/>
<path d="M546.95 77.90V1240.80" stroke="#000" stroke-width="3.8" fill="none"/>
<path d="M2421.40 77.90V1240.80" stroke="#000" stroke-width="4.6" fill="none"/>
<path d="M545.05 79.90H2423.70" stroke="#000" stroke-width="4" fill="none"/>
<path d="M545.05 1238.95H2423.70" stroke="#000" stroke-width="3.7" fill="none"/>
<g font-family="'Liberation Sans', sans-serif" fill="#000"><text transform="translate(232.67 196.96) scale(0.9446 1)" font-size="85.30">5</text><text transform="translate(277.29 196.96) scale(0.8619 1)" font-size="85.30">.</text><text x="309.79" y="201.96" font-family="'Liberation Sans', sans-serif" font-size="78.00" stroke="#000" stroke-width="0.6">×</text><text transform="translate(365.86 196.96) scale(1.0778 1)" font-size="85.30">1</text><text transform="translate(411.94 196.96) scale(0.9172 1)" font-size="85.30">0</text><text transform="translate(457.28 165.56) scale(0.9698 1)" font-family="'Liberation Sans', sans-serif" font-size="59.00">−</text><text x="489.78" y="161.66" font-family="'Liberation Sans', sans-serif" font-size="59.00">7</text><text transform="translate(231.46 540.50) scale(1.1018 1)" font-size="85.30">1</text><text transform="translate(277.29 540.50) scale(0.8619 1)" font-size="85.30">.</text><text x="309.79" y="545.50" font-family="'Liberation Sans', sans-serif" font-size="78.00" stroke="#000" stroke-width="0.6">×</text><text transform="translate(365.86 540.50) scale(1.0778 1)" font-size="85.30">1</text><text transform="translate(411.94 540.50) scale(0.9172 1)" font-size="85.30">0</text><text transform="translate(457.28 509.10) scale(0.9698 1)" font-family="'Liberation Sans', sans-serif" font-size="59.00">−</text><text x="489.78" y="505.20" font-family="'Liberation Sans', sans-serif" font-size="59.00">7</text><text transform="translate(232.67 688.46) scale(0.9446 1)" font-size="85.30">5</text><text transform="translate(277.29 688.46) scale(0.8619 1)" font-size="85.30">.</text><text x="309.79" y="693.46" font-family="'Liberation Sans', sans-serif" font-size="78.00" stroke="#000" stroke-width="0.6">×</text><text transform="translate(365.86 688.46) scale(1.0778 1)" font-size="85.30">1</text><text transform="translate(411.94 688.46) scale(0.9172 1)" font-size="85.30">0</text><text transform="translate(457.28 657.06) scale(0.9698 1)" font-family="'Liberation Sans', sans-serif" font-size="59.00">−</text><text x="490.24" y="653.16" font-family="'Liberation Sans', sans-serif" font-size="59.00">8</text><text transform="translate(231.46 1032.00) scale(1.1018 1)" font-size="85.30">1</text><text transform="translate(277.29 1032.00) scale(0.8619 1)" font-size="85.30">.</text><text x="309.79" y="1037.00" font-family="'Liberation Sans', sans-serif" font-size="78.00" stroke="#000" stroke-width="0.6">×</text><text transform="translate(365.86 1032.00) scale(1.0778 1)" font-size="85.30">1</text><text transform="translate(411.94 1032.00) scale(0.9172 1)" font-size="85.30">0</text><text transform="translate(457.28 1000.60) scale(0.9698 1)" font-family="'Liberation Sans', sans-serif" font-size="59.00">−</text><text x="490.24" y="996.70" font-family="'Liberation Sans', sans-serif" font-size="59.00">8</text><text transform="translate(232.67 1179.96) scale(0.9446 1)" font-size="85.30">5</text><text transform="translate(277.29 1179.96) scale(0.8619 1)" font-size="85.30">.</text><text x="309.79" y="1184.96" font-family="'Liberation Sans', sans-serif" font-size="78.00" stroke="#000" stroke-width="0.6">×</text><text transform="translate(365.86 1179.96) scale(1.0778 1)" font-size="85.30">1</text><text transform="translate(411.94 1179.96) scale(0.9172 1)" font-size="85.30">0</text><text transform="translate(457.28 1148.56) scale(0.9698 1)" font-family="'Liberation Sans', sans-serif" font-size="59.00">−</text><text x="490.03" y="1144.66" font-family="'Liberation Sans', sans-serif" font-size="59.00">9</text><text transform="translate(528.68 1344.00) scale(0.9368 1)" font-size="85.30">0</text><text transform="translate(573.29 1344.00) scale(0.8619 1)" font-size="85.30">.</text><text transform="translate(595.14 1344.00) scale(1.0682 1)" font-size="85.30">1</text><text transform="translate(1074.59 1344.00) scale(0.9344 1)" font-size="85.30">0</text><text transform="translate(1120.68 1344.00) scale(0.8373 1)" font-size="85.30">.</text><text transform="translate(1143.01 1344.00) scale(0.9347 1)" font-size="85.30">5</text><text transform="translate(1344.31 1344.00) scale(1.0585 1)" font-size="85.30">1</text><text transform="translate(1890.50 1344.00) scale(0.9668 1)" font-size="85.30">5</text><text transform="translate(2103.31 1344.00) scale(1.0585 1)" font-size="85.30">1</text><text transform="translate(2149.99 1344.00) scale(0.9319 1)" font-size="85.30">0</text></g>
<g fill="#fff"><rect x="370.79" y="188.78" width="18.18" height="9.77"/><rect x="397.10" y="188.78" width="17.46" height="9.77"/><rect x="236.51" y="532.33" width="18.59" height="9.77"/><rect x="263.40" y="532.33" width="17.85" height="9.77"/><rect x="370.79" y="532.33" width="18.18" height="9.77"/><rect x="397.10" y="532.33" width="17.46" height="9.77"/><rect x="370.79" y="680.28" width="18.18" height="9.77"/><rect x="397.10" y="680.28" width="17.46" height="9.77"/><rect x="236.51" y="1023.83" width="18.59" height="9.77"/><rect x="263.40" y="1023.83" width="17.85" height="9.77"/><rect x="370.79" y="1023.83" width="18.18" height="9.77"/><rect x="397.10" y="1023.83" width="17.46" height="9.77"/><rect x="370.79" y="1171.78" width="18.18" height="9.77"/><rect x="397.10" y="1171.78" width="17.46" height="9.77"/><rect x="600.03" y="1335.83" width="18.02" height="9.77"/><rect x="626.10" y="1335.83" width="17.31" height="9.77"/><rect x="1349.16" y="1335.83" width="17.86" height="9.77"/><rect x="1375.00" y="1335.83" width="17.15" height="9.77"/><rect x="2108.16" y="1335.83" width="17.86" height="9.77"/><rect x="2134.00" y="1335.83" width="17.15" height="9.77"/></g>
<g fill="#000"><text transform="translate(1298.21 1573.50) scale(0.8341 1)" font-family="'Liberation Serif', serif" font-size="144.32" font-style="italic">E</text><text transform="translate(1377.47 1575.83) scale(0.9204 1)" font-family="'Liberation Serif', serif" font-size="139.55">[</text><text transform="translate(1417.47 1574.50) scale(0.9444 1)" font-family="'Liberation Serif', serif" font-size="144.41" font-style="italic">k</text><text transform="translate(1478.57 1573.16) scale(0.9094 1)" font-family="'Liberation Serif', serif" font-size="136.81" font-style="italic">e</text><text transform="translate(1539.72 1573.50) scale(0.9386 1)" font-family="'Liberation Serif', serif" font-size="144.32" font-style="italic">V</text><text transform="translate(1632.04 1575.83) scale(0.8850 1)" font-family="'Liberation Serif', serif" font-size="139.55">]</text></g>
<g fill="#000" transform="translate(135.60 1220.00) rotate(-90)"><text transform="translate(-0.30 0.00) scale(0.9745 1)" font-family="'Liberation Serif', serif" font-size="142.49">E</text><text transform="translate(117.72 0.00) scale(0.9687 1)" font-family="'Liberation Serif', serif" font-size="142.49">F</text><text transform="translate(193.98 20.50) scale(0.9668 1)" font-family="'Liberation Serif', serif" font-size="101.25">E</text><text transform="translate(258.33 3.79) scale(0.9365 1)" font-family="'Liberation Serif', serif" font-size="139.07">[</text><text transform="translate(299.25 -0.00) scale(1.1416 1)" font-family="'Liberation Serif', serif" font-size="133.48">e</text><text transform="translate(365.11 0.40) scale(1.1868 1)" font-family="'Liberation Serif', serif" font-size="134.34">r</text><text transform="translate(419.55 9.11) scale(1.1194 1)" font-family="'Liberation Serif', serif" font-size="140.33">g</text><text transform="translate(495.10 20.52) scale(0.9108 1)" font-family="'Liberation Serif', serif" font-size="171.91">/</text><text transform="translate(539.57 -3.59) scale(0.9881 1)" font-family="'Liberation Serif', serif" font-size="127.27">(</text><text transform="translate(580.14 0.00) scale(1.0413 1)" font-family="'Liberation Serif', serif" font-size="132.65">c</text><text transform="translate(641.68 0.60) scale(1.1723 1)" font-family="'Liberation Serif', serif" font-size="134.76">m</text><text transform="translate(760.84 -45.40) scale(1.0921 1)" font-family="'Liberation Serif', serif" font-size="101.19">2</text><text transform="translate(846.66 0.10) scale(1.1621 1)" font-family="'Liberation Serif', serif" font-size="133.07">s</text><text transform="translate(904.17 0.10) scale(1.1594 1)" font-family="'Liberation Serif', serif" font-size="133.07">e</text><text transform="translate(969.24 0.10) scale(1.0371 1)" font-family="'Liberation Serif', serif" font-size="133.07">c</text><text transform="translate(1031.10 -3.65) scale(1.0056 1)" font-family="'Liberation Serif', serif" font-size="126.61">)</text><text transform="translate(1075.94 3.71) scale(0.8889 1)" font-family="'Liberation Serif', serif" font-size="138.95">]</text></g>
<g fill="#000"><path d="M1150 720.00H1400" stroke="#000" stroke-width="24.1" fill="none"/><path d="M1150 853.40H1400" stroke="#f0f" stroke-width="23.0" fill="none" stroke-dasharray="28 26.25"/><path d="M1150 987.50H1400" stroke="#00f" stroke-width="23.0" fill="none" stroke-dasharray="8 26 28 26"/><path d="M1150 1121.00H1400" stroke="#f00" stroke-width="24.0" fill="none" stroke-dasharray="41.5 12.8 14.7 12.3"/><text transform="translate(1437.81 744.00) scale(1.1028 1)" font-family="'Liberation Serif', serif" font-size="86.00">m</text><text transform="translate(1532.85 750.50) scale(1.1320 1)" font-family="'Liberation Serif', serif" font-size="86.00">=</text><text transform="translate(1607.58 744.00) scale(0.9568 1)" font-family="'Liberation Serif', serif" font-size="86.00">2.000</text><text transform="translate(1794.22 766.70) scale(0.8520 1)" font-family="'Liberation Serif', serif" font-size="90.80">*</text><text transform="translate(1828.27 744.00) scale(1.0231 1)" font-family="'Liberation Serif', serif" font-size="86.00">10</text><text transform="translate(1916.76 717.30) scale(1.0852 1)" font-family="'Liberation Serif', serif" font-size="60.00">−</text><text transform="translate(1951.46 713.00) scale(1.0379 1)" font-family="'Liberation Serif', serif" font-size="60.00">22</text><text transform="translate(2033.20 744.00) scale(0.9931 1)" font-family="'Liberation Serif', serif" font-size="86.00">GeV</text><text transform="translate(1437.81 877.70) scale(1.1028 1)" font-family="'Liberation Serif', serif" font-size="86.00">m</text><text transform="translate(1532.85 884.20) scale(1.1320 1)" font-family="'Liberation Serif', serif" font-size="86.00">=</text><text transform="translate(1607.60 877.70) scale(0.9532 1)" font-family="'Liberation Serif', serif" font-size="86.00">2.136</text><text transform="translate(1794.22 900.40) scale(0.8520 1)" font-family="'Liberation Serif', serif" font-size="90.80">*</text><text transform="translate(1828.27 877.70) scale(1.0231 1)" font-family="'Liberation Serif', serif" font-size="86.00">10</text><text transform="translate(1916.76 851.00) scale(1.0852 1)" font-family="'Liberation Serif', serif" font-size="60.00">−</text><text transform="translate(1951.46 846.70) scale(1.0379 1)" font-family="'Liberation Serif', serif" font-size="60.00">22</text><text transform="translate(2033.20 877.70) scale(0.9931 1)" font-family="'Liberation Serif', serif" font-size="86.00">GeV</text><text transform="translate(1437.81 1011.40) scale(1.1028 1)" font-family="'Liberation Serif', serif" font-size="86.00">m</text><text transform="translate(1532.85 1017.90) scale(1.1320 1)" font-family="'Liberation Serif', serif" font-size="86.00">=</text><text transform="translate(1607.58 1011.40) scale(0.9568 1)" font-family="'Liberation Serif', serif" font-size="86.00">2.278</text><text transform="translate(1794.22 1034.10) scale(0.8520 1)" font-family="'Liberation Serif', serif" font-size="90.80">*</text><text transform="translate(1828.27 1011.40) scale(1.0231 1)" font-family="'Liberation Serif', serif" font-size="86.00">10</text><text transform="translate(1916.76 984.70) scale(1.0852 1)" font-family="'Liberation Serif', serif" font-size="60.00">−</text><text transform="translate(1951.46 980.40) scale(1.0379 1)" font-family="'Liberation Serif', serif" font-size="60.00">22</text><text transform="translate(2033.20 1011.40) scale(0.9931 1)" font-family="'Liberation Serif', serif" font-size="86.00">GeV</text><text transform="translate(1437.81 1145.10) scale(1.1028 1)" font-family="'Liberation Serif', serif" font-size="86.00">m</text><text transform="translate(1532.85 1151.60) scale(1.1320 1)" font-family="'Liberation Serif', serif" font-size="86.00">=</text><text transform="translate(1607.60 1145.10) scale(0.9528 1)" font-family="'Liberation Serif', serif" font-size="86.00">2.357</text><text transform="translate(1794.22 1167.80) scale(0.8520 1)" font-family="'Liberation Serif', serif" font-size="90.80">*</text><text transform="translate(1828.27 1145.10) scale(1.0231 1)" font-family="'Liberation Serif', serif" font-size="86.00">10</text><text transform="translate(1916.76 1118.40) scale(1.0852 1)" font-family="'Liberation Serif', serif" font-size="60.00">−</text><text transform="translate(1951.46 1114.10) scale(1.0379 1)" font-family="'Liberation Serif', serif" font-size="60.00">22</text><text transform="translate(2033.20 1145.10) scale(0.9931 1)" font-family="'Liberation Serif', serif" font-size="86.00">GeV</text></g>
</svg></body></html>
